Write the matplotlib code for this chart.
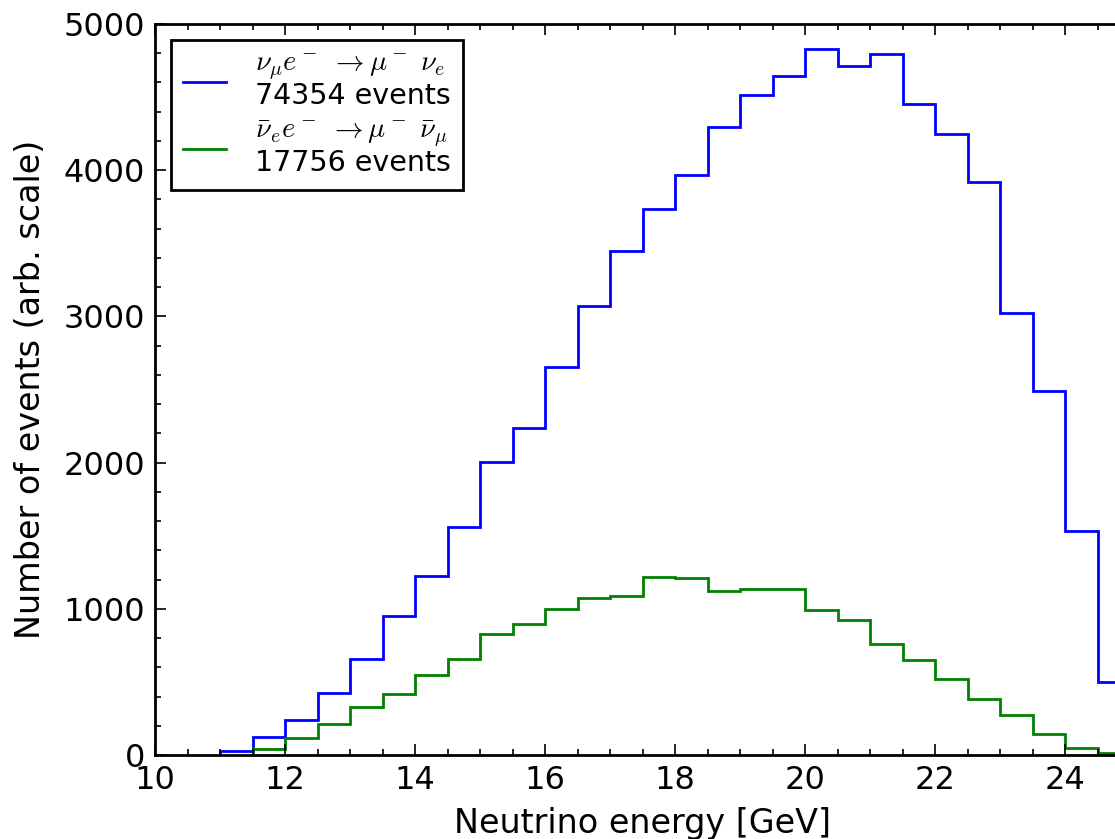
import matplotlib
matplotlib.use("Agg")
import matplotlib.pyplot as plt
import numpy as np
from matplotlib.lines import Line2D

plt.rcParams['mathtext.fontset'] = 'cm'
plt.rcParams['font.family'] = 'DejaVu Sans'

# bin edges (GeV)
nu_edges = np.arange(11.0, 25.01, 0.5)
nubar_edges = np.arange(11.5, 25.01, 0.5)

# nu_mu e- -> mu- nu_e
nu_counts = [25, 121, 240, 426, 654, 951, 1224, 1560, 2004, 2237, 2654,
             3071, 3447, 3735, 3967, 4295, 4514, 4644, 4829, 4715, 4797,
             4453, 4246, 3922, 3023, 2490, 1532, 499]
# nubar_e e- -> mu- nubar_mu
nubar_counts = [43, 119, 210, 328, 420, 550, 654, 828, 896, 996, 1076,
                1088, 1215, 1211, 1124, 1135, 1133, 990, 923, 759, 652,
                518, 383, 274, 141, 50, 16]

labels = [r"$\nu_\mu e^-\ \rightarrow \mu^-\ \nu_e$" + "\n74354 events",
          r"$\bar{\nu}_e e^-\ \rightarrow \mu^-\ \bar{\nu}_\mu$" + "\n17756 events"]
colors = ['blue', 'green']

fig = plt.figure(figsize=(11.15, 8.39), dpi=100)
ax = fig.add_axes([155 / 1115, 84 / 839, 975 / 1115, 731 / 839])

ax.stairs(nu_counts, nu_edges, color=colors[0], linewidth=2)
ax.stairs(nubar_counts, nubar_edges, color=colors[1], linewidth=2)

ax.set_xlim(10, 25)
ax.set_ylim(0, 5000)
ax.set_xticks(np.arange(10, 25, 2))
ax.set_xticks(np.arange(10, 25.01, 0.5), minor=True)
ax.set_yticks(np.arange(0, 5001, 1000))
ax.set_yticks(np.arange(0, 5001, 200), minor=True)
ax.tick_params(which='both', direction='in', top=True, right=True,
               labelsize=23, pad=7, width=1.2)
ax.tick_params(which='major', length=8)
ax.tick_params(which='minor', length=4)
for sp in ax.spines.values():
    sp.set_linewidth(2)

ax.set_xlabel("Neutrino energy [GeV]", fontsize=24, labelpad=8)
ax.set_ylabel("Number of events (arb. scale)", fontsize=24, labelpad=12)

handles = [Line2D([], [], color=c, linewidth=2) for c in colors]
leg = ax.legend(handles, labels, loc='upper left', fontsize=20.5,
                fancybox=False, framealpha=1, handlelength=1.5,
                handletextpad=1.0, borderpad=0.45, borderaxespad=0.55,
                labelspacing=0.3)
leg.get_frame().set_edgecolor('black')
leg.get_frame().set_linewidth(2)
for t in leg.get_texts():
    t.set_linespacing(1.0)

fig.savefig("out.png", dpi=100)
